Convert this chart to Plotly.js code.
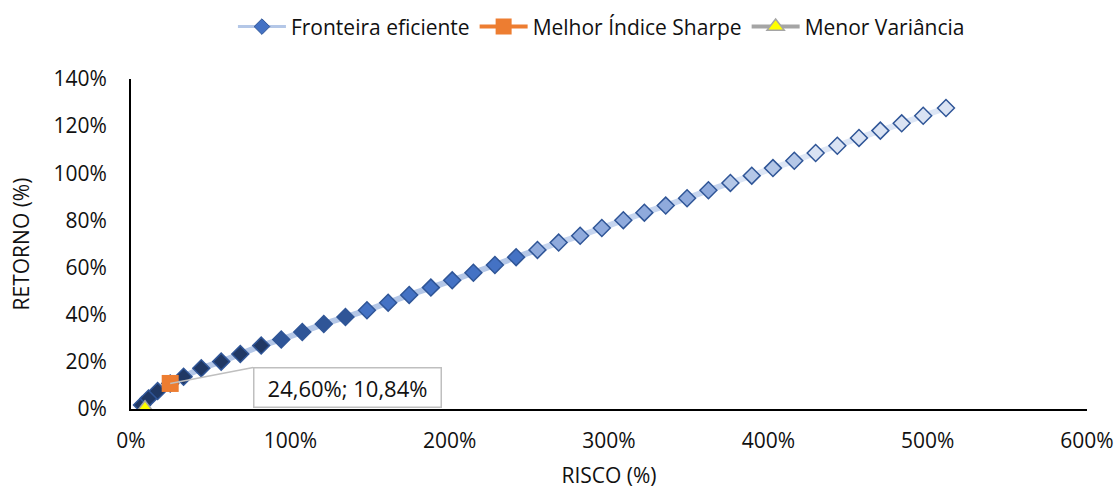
<!DOCTYPE html>
<html><head><meta charset="utf-8">
<script src="https://cdn.plot.ly/plotly-3.0.1.min.js"></script>
<style>html,body{margin:0;padding:0;background:#fff}#chart{width:1120px;height:490px}</style>
</head><body><div id="chart"></div>
<script>
// ---- data (percent) ----
const riscoFronteira = [6.9, 11.0, 16.7, 24.6, 33.0, 44.1, 56.6, 68.6, 81.7, 94.3,
  107.5, 121.0, 134.6, 148.1, 161.4, 174.6, 188.2, 201.6, 214.9, 228.4,
  241.7, 255.1, 268.4, 281.9, 295.5, 309.0, 322.2, 335.6, 349.0, 362.4,
  376.2, 389.6, 402.9, 416.3, 429.7, 443.3, 456.9, 470.3, 483.7, 497.2, 511.5];
const retornoFronteira = [1.7, 4.5, 7.6, 10.84, 13.7, 17.3, 20.1, 23.3, 26.9, 29.5,
  32.7, 36.1, 39.0, 41.9, 45.1, 48.4, 51.5, 54.6, 57.8, 61.1,
  64.4, 67.5, 70.6, 73.5, 76.8, 80.1, 83.3, 86.3, 89.4, 92.8,
  95.9, 99.0, 102.2, 105.3, 108.6, 111.7, 115.0, 118.1, 121.2, 124.4, 127.7];
const sharpeRisco = [24.60];
const sharpeRetorno = [10.84];
const minVarRisco = [8.8];
const minVarRetorno = [0.3];
const seriesNames = ['Fronteira eficiente', 'Melhor Índice Sharpe', 'Menor Variância'];
const xTickVals = [0, 100, 200, 300, 400, 500, 600];
const yTickVals = [0, 20, 40, 60, 80, 100, 120, 140];
const rotuloSharpe = '24,60%; 10,84%';

// ---- styles ----
const FONT = '"Open Sans", Lato, sans-serif';
const TXT = '#111';
const FS = 21;
function markerColor(i) {
  const n = i + 1;
  if (n <= 9) return '#203864';
  if (n <= 13) return '#2F5597';
  if (n <= 21) return '#4472C4';
  if (n <= 30) return '#8FAADC';
  if (n <= 34) return '#B4C7E7';
  return '#DAE3F3';
}
function lineColor(i) {
  const n = i + 1;
  if (n <= 21) return '#B4C7E7';
  if (n <= 30) return '#C6D5EF';
  return '#DDE6F5';
}

const traces = [];
for (let i = 0; i < riscoFronteira.length - 1; i++) {
  traces.push({
    x: [riscoFronteira[i], riscoFronteira[i + 1]],
    y: [retornoFronteira[i], retornoFronteira[i + 1]],
    mode: 'lines', showlegend: false, hoverinfo: 'skip',
    line: {color: lineColor(i), width: 6}
  });
}
traces.push({
  x: riscoFronteira, y: retornoFronteira, mode: 'markers', showlegend: false,
  marker: {symbol: 'diamond', size: 13, color: riscoFronteira.map((_, i) => markerColor(i)),
    line: {color: '#2F5597', width: 1.5}}
});
traces.push({
  x: [null], y: [null], mode: 'lines+markers', name: seriesNames[0],
  line: {color: '#B4C7E7', width: 3},
  marker: {symbol: 'diamond', size: 12, color: '#4472C4', line: {color: '#2F5597', width: 1}}
});
traces.push({
  x: sharpeRisco, y: sharpeRetorno, mode: 'lines+markers', name: seriesNames[1],
  line: {color: '#ED7D31', width: 4},
  marker: {symbol: 'square', size: 17, color: '#ED7D31', line: {color: '#ED7D31', width: 0}}
});
traces.push({
  x: minVarRisco, y: minVarRetorno, mode: 'lines+markers', name: seriesNames[2],
  line: {color: '#A5A5A5', width: 4},
  marker: {symbol: 'triangle-up', size: 15, color: '#FFFF00', line: {color: '#A5A5A5', width: 1.5}}
});

const layout = {
  width: 1120, height: 490,
  margin: {l: 131, r: 33, t: 79, b: 81},
  paper_bgcolor: '#fff', plot_bgcolor: '#fff',
  separators: ',.',
  font: {family: FONT, size: FS, color: TXT},
  showlegend: true,
  legend: {orientation: 'h', x: 0.537, xanchor: 'center', xref: 'container',
    y: 0.945, yanchor: 'middle', yref: 'container',
    font: {family: FONT, size: FS, color: TXT}, itemwidth: 48,
    traceorder: 'normal'},
  xaxis: {
    range: [0, 600], tickvals: xTickVals, ticktext: xTickVals.map(v => v + '%'),
    showgrid: false, zeroline: false, showline: true, linecolor: '#000', linewidth: 2,
    ticks: '', ticklabelstandoff: 12,
    title: {text: 'RISCO (%)', font: {family: FONT, size: FS, color: TXT}},
    automargin: false, fixedrange: true
  },
  yaxis: {
    range: [0, 140], tickvals: yTickVals, ticktext: yTickVals.map(v => v + '%'),
    showgrid: false, zeroline: false, showline: true, linecolor: '#000', linewidth: 2,
    ticks: '', ticklabelstandoff: 18,
    title: {text: 'RETORNO (%)', font: {family: FONT, size: FS, color: TXT}, standoff: 18},
    automargin: true, fixedrange: true
  },
  annotations: [{
    x: sharpeRisco[0], y: sharpeRetorno[0], xref: 'x', yref: 'y',
    text: rotuloSharpe, showarrow: true, arrowhead: 0, arrowwidth: 1.5, arrowcolor: '#BFBFBF',
    ax: 83, ay: -16, xanchor: 'left', yanchor: 'top',
    width: 180, height: 32, align: 'center', valign: 'middle',
    bordercolor: '#BFBFBF', borderwidth: 1.5, borderpad: 3, bgcolor: '#fff',
    font: {family: FONT, size: 22, color: TXT}
  }]
};

Plotly.newPlot('chart', traces, layout, {displayModeBar: false, staticPlot: true});
</script></body></html>
